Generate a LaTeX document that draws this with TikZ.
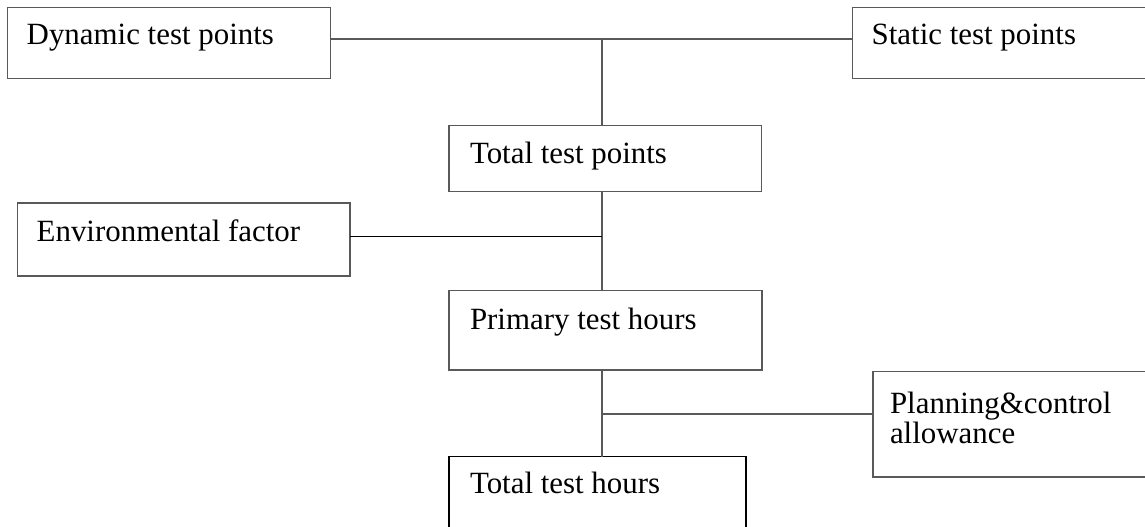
\documentclass[tikz,border=0pt]{standalone}
\usepackage{fontspec}
\setmainfont{Liberation Serif}
\begin{document}
\begin{tikzpicture}[x=1pt,y=-1pt,
  box/.style={draw=black!65, line width=1.1pt, rectangle, inner sep=0pt, outer sep=0pt, anchor=north west},
  txt/.style={inner sep=0pt, outer sep=0pt, anchor=base west, font=\fontsize{30.9}{30}\selectfont, align=left},
  conn/.style={draw=black!65, line width=1.1pt}]
\useasboundingbox (0,0) rectangle (1145,527);
% boxes
\node[box, minimum width=323.4pt, minimum height=71.4pt] (dyn) at (7.3,7.3) {};
\node[box, minimum width=320pt, minimum height=71.4pt] (stat) at (852.7,7.3) {};
\node[box, minimum width=312.7pt, minimum height=66pt] (ttp) at (449,125.7) {};
\node[box, minimum width=332.7pt, minimum height=73pt] (env) at (17.3,203) {};
\node[box, minimum width=313pt, minimum height=79.3pt] (pth) at (449,290.7) {};
\node[box, minimum width=300pt, minimum height=105.3pt] (plan) at (873,371.7) {};
\node[box, draw=black, minimum width=297pt, minimum height=100pt] (tth) at (449,456.7) {};
% texts
\node[txt] (dynt) at ([xshift=19.4pt,yshift=-37.7pt]dyn.north west) {Dynamic test points};
\node[txt] (statt) at ([xshift=19pt,yshift=-37.7pt]stat.north west) {Static test points};
\node[txt] (ttpt) at ([xshift=21pt,yshift=-37.3pt]ttp.north west) {Total test points};
\node[txt] (envt) at ([xshift=19.4pt,yshift=-38.7pt]env.north west) {Environmental factor};
\node[txt] (ptht) at ([xshift=21pt,yshift=-38.3pt]pth.north west) {Primary test hours};
\node[txt] (plant) at ([xshift=17pt,yshift=-71.3pt]plan.north west) {Planning\&control\\allowance};
\node[txt] (ttht) at ([xshift=21pt,yshift=-36.3pt]tth.north west) {Total test hours};
% junctions
\coordinate (j1) at (602,39);
\coordinate (j2) at (602,236.7);
\coordinate (j3) at (602,414);
% connectors
\draw[conn] (dyn.east |- j1) -- (stat.west |- j1);
\draw[conn] (j1) -- (j1 |- ttp.north);
\draw[conn] (j1 |- ttp.south) -- (j1 |- pth.north);
\draw[conn, draw=black] (env.east |- j2) -- (j2);
\draw[conn] (j1 |- pth.south) -- (j1 |- tth.north);
\draw[conn] (j3) -- (plan.west |- j3);
\end{tikzpicture}
\end{document}
